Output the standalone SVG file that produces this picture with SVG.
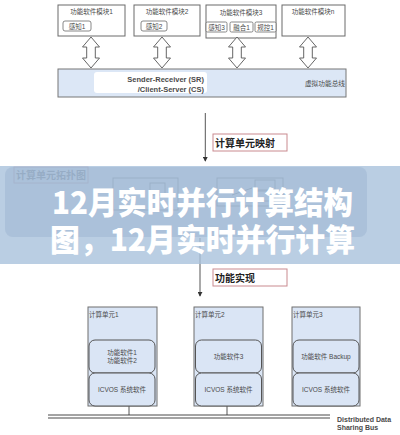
<svg xmlns="http://www.w3.org/2000/svg" width="400" height="435" viewBox="0 0 400 435">
<style>
  .mod{fill:#fff;stroke:#6a6a6a;stroke-width:1}
  .sub{fill:#fff;stroke:#6a6a6a;stroke-width:0.8}
  .t{font-family:"Liberation Sans","Noto Sans CJK SC",sans-serif;fill:#4a4a4a}
  .s{font-size:6.5px}
  .lbl{fill:#fff;stroke:#c98a8f;stroke-width:1}
  .lt{font-family:"Noto Sans CJK SC","Liberation Sans",sans-serif;font-weight:bold;font-size:10px;fill:#222}
  .unit{fill:#dae5f5;stroke:#6f6f6f;stroke-width:1}
  .inner{fill:#dae5f5;stroke:#555;stroke-width:1}
  .dbl{fill:#fff;stroke:#555;stroke-width:0.9}
  .ln{stroke:#555;stroke-width:1;fill:none}
  .title{font-family:"Noto Sans CJK SC","Noto Sans",sans-serif;font-weight:900;font-size:31px;fill:#fff}
</style>
<defs>
  <path id="darr" d="M0,0 L8.5,10 L4.3,10 L4.3,21 L8.5,21 L0,31 L-8.5,21 L-4.3,21 L-4.3,10 L-8.5,10 Z"/>
  <marker id="ah" viewBox="0 0 6 6" refX="5" refY="3" markerWidth="5" markerHeight="5" orient="auto">
    <path d="M0,0 L6,3 L0,6 Z" fill="#333"/>
  </marker>
</defs>
<rect width="400" height="435" fill="#fff"/>

<!-- top modules -->
<g id="mod1">
  <rect class="mod" x="58" y="5" width="67" height="31"/>
  <text class="t s" x="91.5" y="14" text-anchor="middle">功能软件模块1</text>
  <rect class="sub" x="63" y="21" width="28" height="10" rx="2"/>
  <text class="t s" x="77" y="28.5" text-anchor="middle">感知1</text>
</g>
<g id="mod2">
  <rect class="mod" x="134" y="5" width="66" height="31"/>
  <text class="t s" x="167" y="14" text-anchor="middle">功能软件模块2</text>
  <rect class="sub" x="141" y="21" width="26" height="10" rx="2"/>
  <text class="t s" x="154" y="28.5" text-anchor="middle">感知2</text>
</g>
<g id="mod3">
  <rect class="mod" x="206" y="5" width="70" height="33"/>
  <text class="t s" x="241" y="15" text-anchor="middle">功能软件模块3</text>
  <rect class="sub" x="206" y="22" width="21" height="10" rx="1.5"/>
  <text class="t s" x="216.5" y="29.5" text-anchor="middle">感知3</text>
  <rect class="sub" x="230" y="22" width="23" height="10" rx="1.5"/>
  <text class="t s" x="241.5" y="29.5" text-anchor="middle">融合1</text>
  <rect class="sub" x="255" y="22" width="21" height="10" rx="1.5"/>
  <text class="t s" x="265.5" y="29.5" text-anchor="middle">规控1</text>
</g>
<g id="modn">
  <rect class="mod" x="282" y="5" width="63" height="31"/>
  <text class="t s" x="313" y="14" text-anchor="middle">功能软件模块n</text>
</g>

<!-- virtual function bus -->
<g id="vfb">
  <rect x="58" y="69" width="288" height="28" fill="#dce7f6" stroke="#777" stroke-width="1"/>
  <rect x="94" y="72" width="113" height="21" rx="3" fill="#fff"/>
  <text class="t" x="204" y="82" text-anchor="end" font-size="7.5" font-weight="bold" fill="#444">Sender-Receiver (SR)</text>
  <text class="t" x="204" y="92" text-anchor="end" font-size="7.5" font-weight="bold" fill="#444">/Client-Server (CS)</text>
  <text class="t" x="325" y="86" text-anchor="middle" font-size="6.7">虚拟功能总线</text>
</g>

<!-- faint topology diagram (under overlay) -->
<g id="topo">
  <rect x="14" y="167" width="74" height="16" fill="#fff" stroke="#c98a8f" stroke-width="1"/>
  <text x="16" y="179" font-family="Noto Sans CJK SC,sans-serif" font-weight="bold" font-size="10" fill="#444">计算单元拓扑图</text>
  <rect x="113" y="178" width="65" height="32" fill="#fff" stroke="#666"/>
  <rect x="150" y="183" width="15" height="12" fill="#fff" stroke="#666"/>
  <rect x="217" y="178" width="66" height="28" fill="#fff" stroke="#666"/>
  <rect x="255" y="180" width="20" height="10" fill="#fff" stroke="#666"/>
  <rect x="255" y="191" width="20" height="10" fill="#fff" stroke="#666"/>
  <line x1="232" y1="195" x2="252" y2="188" stroke="#666"/>
</g>

<!-- connectors -->
<g id="connectors">
  <use href="#darr" x="91" y="37" class="dbl"/>
  <use href="#darr" x="162" y="37" class="dbl"/>
  <use href="#darr" x="237" y="37" class="dbl"/>
  <use href="#darr" x="308" y="37" class="dbl"/>
  <line class="ln" x1="205.3" y1="113" x2="205.3" y2="161" stroke="#444" marker-end="url(#ah)"/>
  <line class="ln" x1="200" y1="238" x2="200" y2="296" stroke="#444" marker-end="url(#ah)"/>
  <line class="ln" x1="129" y1="406" x2="129" y2="415"/>
  <line class="ln" x1="227" y1="406" x2="227" y2="415" stroke="#888"/>
  <line x1="48" y1="415" x2="330" y2="415" stroke="#333" stroke-width="0.9"/>
  <line x1="48" y1="418" x2="330" y2="418" stroke="#333" stroke-width="0.9"/>
</g>

<!-- labels -->
<g id="label-map">
  <rect class="lbl" x="213" y="134" width="74" height="17"/>
  <text class="lt" x="215" y="147">计算单元映射</text>
</g>
<g id="label-impl">
  <rect class="lbl" x="213" y="269" width="74" height="17"/>
  <text class="lt" x="215" y="282">功能实现</text>
</g>

<!-- compute units -->
<g id="unit1">
  <rect class="unit" x="88" y="307" width="69" height="99"/>
  <text class="t s" x="89" y="317">计算单元1</text>
  <rect class="inner" x="89" y="340" width="66" height="33" rx="6"/>
  <text class="t s" x="122" y="355" text-anchor="middle">功能软件1</text>
  <text class="t s" x="122" y="363" text-anchor="middle">功能软件2</text>
  <rect class="inner" x="89" y="373" width="66" height="33" rx="6"/>
  <text class="t s" x="122" y="391.5" text-anchor="middle">ICVOS  系统软件</text>
</g>
<g id="unit2">
  <rect class="unit" x="194" y="307" width="69" height="99"/>
  <text class="t s" x="195" y="317">计算单元2</text>
  <rect class="inner" x="195.5" y="340" width="66" height="33" rx="6"/>
  <text class="t s" x="228.5" y="358.5" text-anchor="middle">功能软件3</text>
  <rect class="inner" x="195.5" y="373" width="66" height="33" rx="6"/>
  <text class="t s" x="228.5" y="391.5" text-anchor="middle">ICVOS  系统软件</text>
</g>
<g id="unit3">
  <rect class="unit" x="292" y="307" width="68" height="99"/>
  <text class="t s" x="293" y="317">计算单元3</text>
  <rect class="inner" x="293" y="340" width="66" height="33" rx="6"/>
  <text class="t s" x="326" y="358.5" text-anchor="middle">功能软件 Backup</text>
  <rect class="inner" x="293" y="373" width="66" height="33" rx="6"/>
  <text class="t s" x="326" y="391.5" text-anchor="middle">ICVOS  系统软件</text>
</g>
<g id="bus-label">
  <text class="t" x="337" y="422" font-size="7" font-weight="bold" fill="#333">Distributed Data</text>
  <text class="t" x="337" y="430" font-size="7" font-weight="bold" fill="#333">Sharing Bus</text>
</g>

<!-- overlay banner -->
<g id="banner">
  <rect x="0" y="166" width="400" height="98" fill="#a9c2dc" fill-opacity="0.8"/>
  <rect x="5" y="167" width="362" height="70" rx="8" fill="#98b2cf" fill-opacity="0.45"/>
  <text class="title" x="52" y="214" textLength="301" lengthAdjust="spacingAndGlyphs">12月实时并行计算结构</text>
  <text class="title" x="50" y="251" textLength="305" lengthAdjust="spacingAndGlyphs">图，12月实时并行计算</text>
</g>
</svg>
